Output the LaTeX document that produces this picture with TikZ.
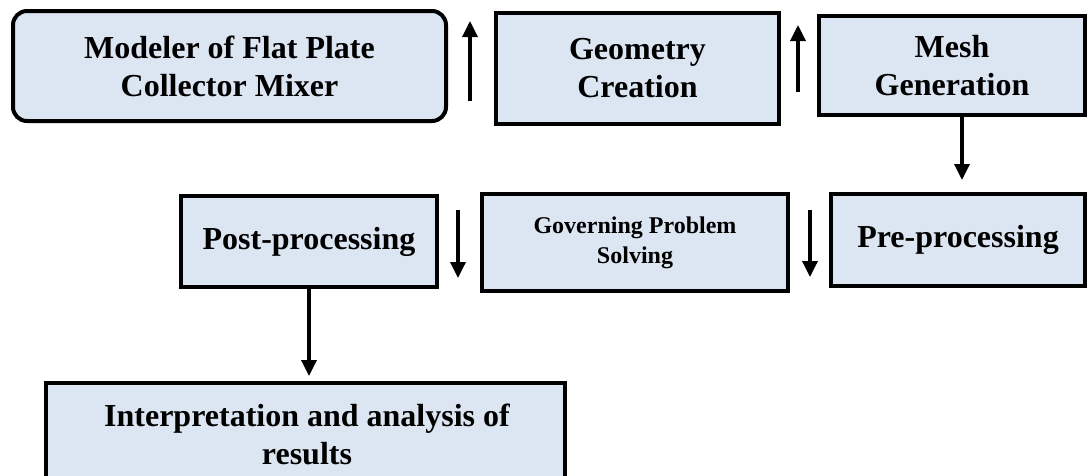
\documentclass[tikz,border=0pt]{standalone}
\usepackage{fontspec}
\setmainfont{Liberation Serif}
\usetikzlibrary{arrows.meta}
\definecolor{boxblue}{RGB}{220,230,242}

\begin{document}
\begin{tikzpicture}[x=1pt,y=-1pt,
  block/.style={draw,line width=4pt,fill=boxblue,align=center,inner sep=0pt,
    font=\bfseries\fontsize{32}{38}\selectfont},
  arr/.style={-{Triangle[width=15pt,length=16pt]},line width=3.4pt}]
  \useasboundingbox (0,0) rectangle (1088,475);
  % top row
  \node[block,rounded corners=14pt,minimum width=433pt,minimum height=110pt] (model) at (229.5,66) {Modeler of Flat Plate\\Collector Mixer};
  \node[block,minimum width=283pt,minimum height=111pt] (geo) at (637.5,68.5) {Geometry\\Creation};
  \node[block,minimum width=266pt,minimum height=99pt] (mesh) at (952,65.5) {Mesh\\Generation};
  % middle row
  \node[block,minimum width=254pt,minimum height=92pt] (pre) at (958,240) {Pre-processing};
  \node[block,minimum width=306pt,minimum height=97pt,
    font=\bfseries\fontsize{24}{30}\selectfont] (gov) at (635,242.5) {Governing Problem\\Solving};
  \node[block,minimum width=256pt,minimum height=91pt] (post) at (309,241.5) {Post-processing};
  % bottom
  \node[block,minimum width=519pt,minimum height=150pt] (interp) at (305.5,458) {};
  \node[font=\bfseries\fontsize{32}{38}\selectfont,align=center,inner sep=0pt] (interptxt) at (307,434) {Interpretation and analysis of\\results};

  % free arrows beside the boxes
  \coordinate (up1s) at (470,101); \coordinate (up1e) at (470,21);
  \coordinate (up2s) at (798,92);  \coordinate (up2e) at (798,25);
  \coordinate (dn1s) at (458,210); \coordinate (dn1e) at (458,278);
  \coordinate (dn2s) at (810,210); \coordinate (dn2e) at (810,277);
  \draw[arr] (up1s) -- (up1e);
  \draw[arr] (up2s) -- (up2e);
  \draw[arr] (dn1s) -- (dn1e);
  \draw[arr] (dn2s) -- (dn2e);

  % connectors
  \draw[arr,shorten >=12pt] ([xshift=10pt]mesh.south) -- ([xshift=10pt]mesh.south |- pre.north);
  \draw[arr,shorten >=5pt] (post.south) -- (post.south |- interp.north);
\end{tikzpicture}
\end{document}
